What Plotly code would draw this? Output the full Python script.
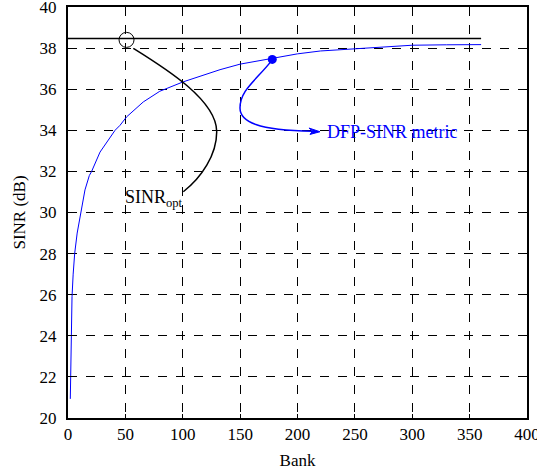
import plotly.graph_objects as go

# ---- data ----
bank = [2.0, 2.7, 3.5, 4.5, 5.8, 8.0, 11.3, 14.8, 18.6, 20.6, 27.9, 36.0, 41.0, 45.3,
        51.0, 65.6, 80.0, 100.5, 115.0, 124.0, 132.5, 150.0, 178.0, 200.0, 220.0,
        254.0, 275.0, 300.0, 330.0, 360.0]
sinr_dfp = [20.93, 23.5, 25.9, 27.0, 28.0, 29.0, 30.0, 31.1, 31.8, 32.0, 32.94, 33.6, 34.0, 34.24,
            34.65, 35.38, 35.9, 36.36, 36.62, 36.78, 36.95, 37.22, 37.5, 37.72, 37.86,
            37.99, 38.07, 38.14, 38.16, 38.17]
opt_bank = [0, 360]
opt_sinr = [38.47, 38.47]
chosen_bank = [178.0]
chosen_sinr = [37.45]
x_ticks = [0, 50, 100, 150, 200, 250, 300, 350, 400]
y_ticks = [20, 22, 24, 26, 28, 30, 32, 34, 36, 38, 40]

FONT = "Liberation Serif, Times New Roman, serif"

fig = go.Figure()
fig.add_trace(go.Scatter(x=bank, y=sinr_dfp, mode="lines",
                         line=dict(color="rgb(0,0,255)", width=1), showlegend=False))
fig.add_trace(go.Scatter(x=opt_bank, y=opt_sinr, mode="lines",
                         line=dict(color="black", width=1.5), showlegend=False))
fig.add_trace(go.Scatter(x=chosen_bank, y=chosen_sinr, mode="markers",
                         marker=dict(color="rgb(0,0,255)", size=9), showlegend=False))

shapes = [
    dict(type="circle", xref="x", yref="y", xsizemode="pixel", ysizemode="pixel",
         xanchor=51, yanchor=38.4, x0=-7.5, x1=7.5, y0=-7.5, y1=7.5,
         line=dict(color="black", width=1)),
    dict(type="path", xref="x", yref="y",
         path="M 56.9,37.99 C 84.5,37.03 129.6,35.47 129.6,33.93 C 129.6,32.80 116.2,31.69 100.5,31.01",
         line=dict(color="black", width=1.5)),
    dict(type="path", xref="x", yref="y",
         path="M 177.5,37.39 C 163.6,36.41 149.9,35.96 149.9,35.085 C 149.9,34.40 165.6,34.01 213.0,33.95",
         line=dict(color="rgb(0,0,255)", width=1.5)),
    dict(type="path", xref="x", yref="y",
         path="M 219.6,33.93 L 210.0,34.11 L 213.1,33.96 L 210.9,33.80 Z",
         line=dict(color="rgb(0,0,255)", width=1), fillcolor="rgb(0,0,255)"),
]

annotations = [
    dict(x=48.2, y=30.7, xref="x", yref="y", text="SINR<sub>opt</sub>", showarrow=False,
         xanchor="left", yanchor="middle", font=dict(family=FONT, size=18, color="black")),
    dict(x=224, y=33.93, xref="x", yref="y", text="DFP-SINR metric", showarrow=False,
         xanchor="left", yanchor="middle", font=dict(family=FONT, size=18, color="rgb(0,0,255)")),
]

axis_common = dict(showline=True, linecolor="black", linewidth=2, mirror=True,
                   ticks="inside", ticklen=4, tickcolor="black",
                   showgrid=True, gridcolor="black", griddash="dash", gridwidth=1,
                   zeroline=False, ticklabeloverflow="allow", automargin=False,
                   tickfont=dict(family=FONT, size=17, color="black"))

fig.update_layout(
    width=537, height=474,
    margin=dict(l=68, r=10, t=7, b=56, autoexpand=False),
    plot_bgcolor="white", paper_bgcolor="white",
    shapes=shapes, annotations=annotations,
    xaxis=dict(range=[0, 400], tickvals=x_ticks,
               title=dict(text="Bank", font=dict(family=FONT, size=17, color="black"), standoff=11),
               **axis_common),
    yaxis=dict(range=[20, 40], tickvals=y_ticks, ticklabelstandoff=6,
               title=dict(text="SINR (dB)", font=dict(family=FONT, size=17, color="black"), standoff=10),
               **axis_common),
)

fig.write_html("out.html")
